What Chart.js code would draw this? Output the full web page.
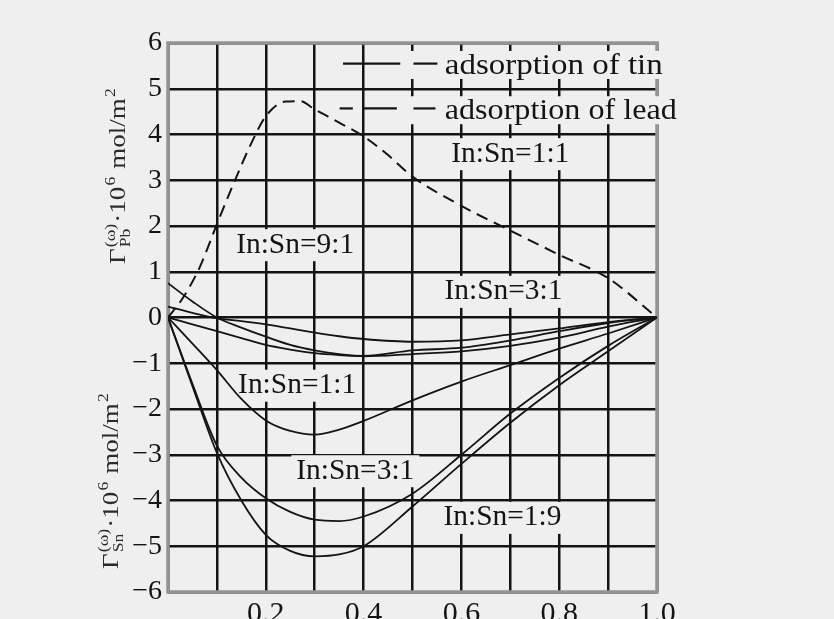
<!DOCTYPE html>
<html>
<head>
<meta charset="utf-8">
<script src="https://cdn.jsdelivr.net/npm/chart.js@4.4.1/dist/chart.umd.min.js"></script>
<style>
  html, body { margin: 0; padding: 0; background: #efefef; overflow: hidden; }
  canvas { display: block; }
  .font-probe { font-family: 'Liberation Serif'; position: absolute; left: -999px; }
</style>
</head>
<body>
<span class="font-probe">In:Sn 0.2</span>
<canvas id="adsorption-chart" width="834" height="640"></canvas>
<script>
// Mole fraction grid shared by the tin curves
const tinX = [0, 0.05, 0.1, 0.15, 0.2, 0.25, 0.3, 0.35, 0.4, 0.5, 0.6, 0.7, 0.8, 0.9, 1.0];

// Adsorption of tin (solid curves)
const tinShallowA = [0.24, 0.1, -0.02, -0.08, -0.15, -0.24, -0.33, -0.41, -0.47, -0.53, -0.5, -0.37, -0.24, -0.1, 0];
const tinShallowB = [0.75, 0.35, 0, -0.22, -0.42, -0.6, -0.72, -0.8, -0.85, -0.8, -0.74, -0.62, -0.44, -0.2, 0];
const tinShallowC = [0, -0.15, -0.3, -0.45, -0.6, -0.7, -0.78, -0.82, -0.84, -0.72, -0.66, -0.5, -0.3, -0.12, 0];
const tin11 = [0, -0.57, -1.15, -1.78, -2.25, -2.48, -2.56, -2.45, -2.26, -1.81, -1.4, -1.04, -0.68, -0.35, 0];
const tin31 = [0, -1.45, -2.8, -3.5, -3.95, -4.25, -4.42, -4.45, -4.35, -3.85, -3.0, -2.1, -1.32, -0.62, 0];
const tin19 = [0, -1.5, -2.96, -4.0, -4.75, -5.1, -5.22, -5.18, -5.0, -4.13, -3.2, -2.3, -1.48, -0.74, 0];

// Adsorption of lead (dashed curve)
const leadX = [0, 0.03, 0.065, 0.1, 0.135, 0.17, 0.2, 0.24, 0.27, 0.3, 0.35, 0.4, 0.45, 0.5, 0.6, 0.7, 0.8, 0.9, 1.0];
const lead11 = [0, 0.42, 1.1, 2.04, 2.95, 3.8, 4.4, 4.72, 4.73, 4.55, 4.26, 3.96, 3.55, 3.08, 2.44, 1.9, 1.37, 0.86, 0];

// Curve labels (text, x, y in data units)
const labelText = ['In:Sn=1:1', 'In:Sn=9:1', 'In:Sn=3:1', 'In:Sn=1:1', 'In:Sn=3:1', 'In:Sn=1:9'];
const labelX = [0.70, 0.26, 0.686, 0.264, 0.383, 0.684];
const labelY = [3.57, 1.58, 0.56, -1.49, -3.36, -4.38];

const legendText = ['adsorption of tin', 'adsorption of lead'];

const BG = '#efefef';
const INK = '#141414';
const SERIF = "'Liberation Serif', serif";

function toPoints(xs, ys) {
  return xs.map((x, i) => ({ x: x, y: ys[i] }));
}

function tinSet(name, ys) {
  return {
    label: name,
    data: toPoints(tinX, ys),
    borderColor: INK,
    borderWidth: 1.8,
    pointRadius: 0,
    cubicInterpolationMode: 'monotone',
    fill: false,
  };
}

// Draws text squeezed or stretched to a given width
function fitText(ctx, text, x, y, width, font, align) {
  ctx.font = font;
  const w = ctx.measureText(text).width;
  ctx.save();
  ctx.translate(x, y);
  ctx.scale(width / w, 1);
  ctx.textAlign = align || 'center';
  ctx.textBaseline = 'middle';
  ctx.fillStyle = INK;
  ctx.fillText(text, 0, 0);
  ctx.restore();
}

// Rotated axis title like  Γ(ω)Sn · 10^6 mol/m^2
function drawAxisTitle(ctx, sub, baseX, yStart, yEnd) {
  const big = '23px ' + SERIF;
  const small = '15px ' + SERIF;
  const parts = [
    { t: 'Γ', f: big, dy: 0 },
    { t: '(ω)', f: small, dy: -10, stack: sub },
    { t: '·10', f: big, dy: 0 },
    { t: '6', f: small, dy: -10 },
    { t: ' mol/m', f: big, dy: 0 },
    { t: '2', f: small, dy: -10 },
  ];
  let total = 0;
  parts.forEach((p) => {
    ctx.font = p.f;
    p.w = ctx.measureText(p.t).width;
    if (p.stack) p.w = Math.max(p.w, ctx.measureText(p.stack).width);
    total += p.w + 1;
  });
  ctx.save();
  ctx.translate(baseX, yStart);
  ctx.rotate(-Math.PI / 2);
  ctx.scale((yStart - yEnd) / total, 1);
  ctx.fillStyle = '#2a2a2a';
  ctx.textBaseline = 'alphabetic';
  ctx.textAlign = 'left';
  let pos = 0;
  parts.forEach((p) => {
    ctx.font = p.f;
    ctx.fillText(p.t, pos, p.dy);
    if (p.stack) ctx.fillText(p.stack, pos, 5);
    pos += p.w + 1;
  });
  ctx.restore();
}

const decorPlugin = {
  id: 'decor',
  beforeDatasetsDraw(chart) {
    const { ctx, chartArea: a, scales } = chart;
    const xs = scales.x;
    const ys = scales.y;

    // grey plot frame
    ctx.save();
    ctx.strokeStyle = '#949494';
    ctx.lineWidth = 3.5;
    ctx.strokeRect(a.left, a.top, a.right - a.left, a.bottom - a.top);
    ctx.restore();

    // curve labels on a background patch that hides the grid
    const labelFont = '29px ' + SERIF;
    labelText.forEach((t, i) => {
      const px = xs.getPixelForValue(labelX[i]);
      const py = ys.getPixelForValue(labelY[i]);
      ctx.fillStyle = BG;
      ctx.fillRect(px - 64, py - 16, 128, 32);
      fitText(ctx, t, px, py, 118, labelFont);
    });

    // legend
    const rows = [5.52, 4.53];
    const widths = [218, 232];
    rows.forEach((ry, i) => {
      const py = ys.getPixelForValue(ry);
      const x0 = xs.getPixelForValue(0.485);
      ctx.fillStyle = BG;
      ctx.fillRect(x0, py - 14, 275, 28);
      fitText(ctx, legendText[i], xs.getPixelForValue(0.566), py + 1, widths[i], labelFont, 'left');
    });
    ctx.save();
    ctx.strokeStyle = INK;
    ctx.lineWidth = 2.2;
    const seg = (x1, x2, v) => {
      ctx.beginPath();
      ctx.moveTo(xs.getPixelForValue(x1), ys.getPixelForValue(v));
      ctx.lineTo(xs.getPixelForValue(x2), ys.getPixelForValue(v));
      ctx.stroke();
    };
    seg(0.358, 0.475, 5.55);
    seg(0.502, 0.551, 5.55);
    seg(0.351, 0.378, 4.57);
    seg(0.398, 0.468, 4.57);
    seg(0.502, 0.547, 4.57);
    ctx.restore();
  },
  afterDraw(chart) {
    const ctx = chart.ctx;
    drawAxisTitle(ctx, 'Pb', 125, 264, 87);
    drawAxisTitle(ctx, 'Sn', 118, 569, 392);
  },
};

const datasets = [
  tinSet('tin A', tinShallowA),
  tinSet('tin B', tinShallowB),
  tinSet('tin C', tinShallowC),
  tinSet('In:Sn=1:1', tin11),
  tinSet('In:Sn=3:1', tin31),
  tinSet('In:Sn=1:9', tin19),
  {
    label: 'lead In:Sn=1:1',
    data: toPoints(leadX, lead11),
    borderColor: INK,
    borderWidth: 2,
    borderDash: [12, 7],
    pointRadius: 0,
    cubicInterpolationMode: 'monotone',
    fill: false,
  },
];

const config = {
  type: 'line',
  data: { datasets: datasets },
  options: {
    responsive: false,
    animation: false,
    layout: {
      padding: { top: 43, right: 177, left: 0, bottom: 0 },
    },
    plugins: {
      legend: { display: false },
      tooltip: { enabled: false },
    },
    scales: {
      x: {
        type: 'linear',
        min: 0,
        max: 1,
        border: { display: false },
        grid: { color: INK, lineWidth: 2.5, drawTicks: false },
        ticks: {
          stepSize: 0.1,
          autoSkip: false,
          maxRotation: 0,
          padding: 4,
          color: INK,
          font: { family: SERIF, size: 30 },
          callback: (v) => {
            const k = Math.round(v * 10);
            return k > 0 && k % 2 === 0 ? (k / 10).toFixed(1) : '';
          },
        },
        afterFit: (s) => { s.height = 48; },
      },
      y: {
        min: -6,
        max: 6,
        border: { display: false },
        grid: { color: INK, lineWidth: 2.5, drawTicks: false },
        ticks: {
          stepSize: 1,
          padding: 6,
          color: INK,
          font: { family: SERIF, size: 28 },
          callback: (v) => (v < 0 ? '\u2212' + Math.abs(v) : String(v)),
        },
        afterFit: (s) => { s.width = 168; },
      },
    },
  },
  plugins: [decorPlugin],
};

document.fonts.load("28px 'Liberation Serif'").then(() => {
  new Chart(document.getElementById('adsorption-chart'), config);
});
</script>
</body>
</html>
